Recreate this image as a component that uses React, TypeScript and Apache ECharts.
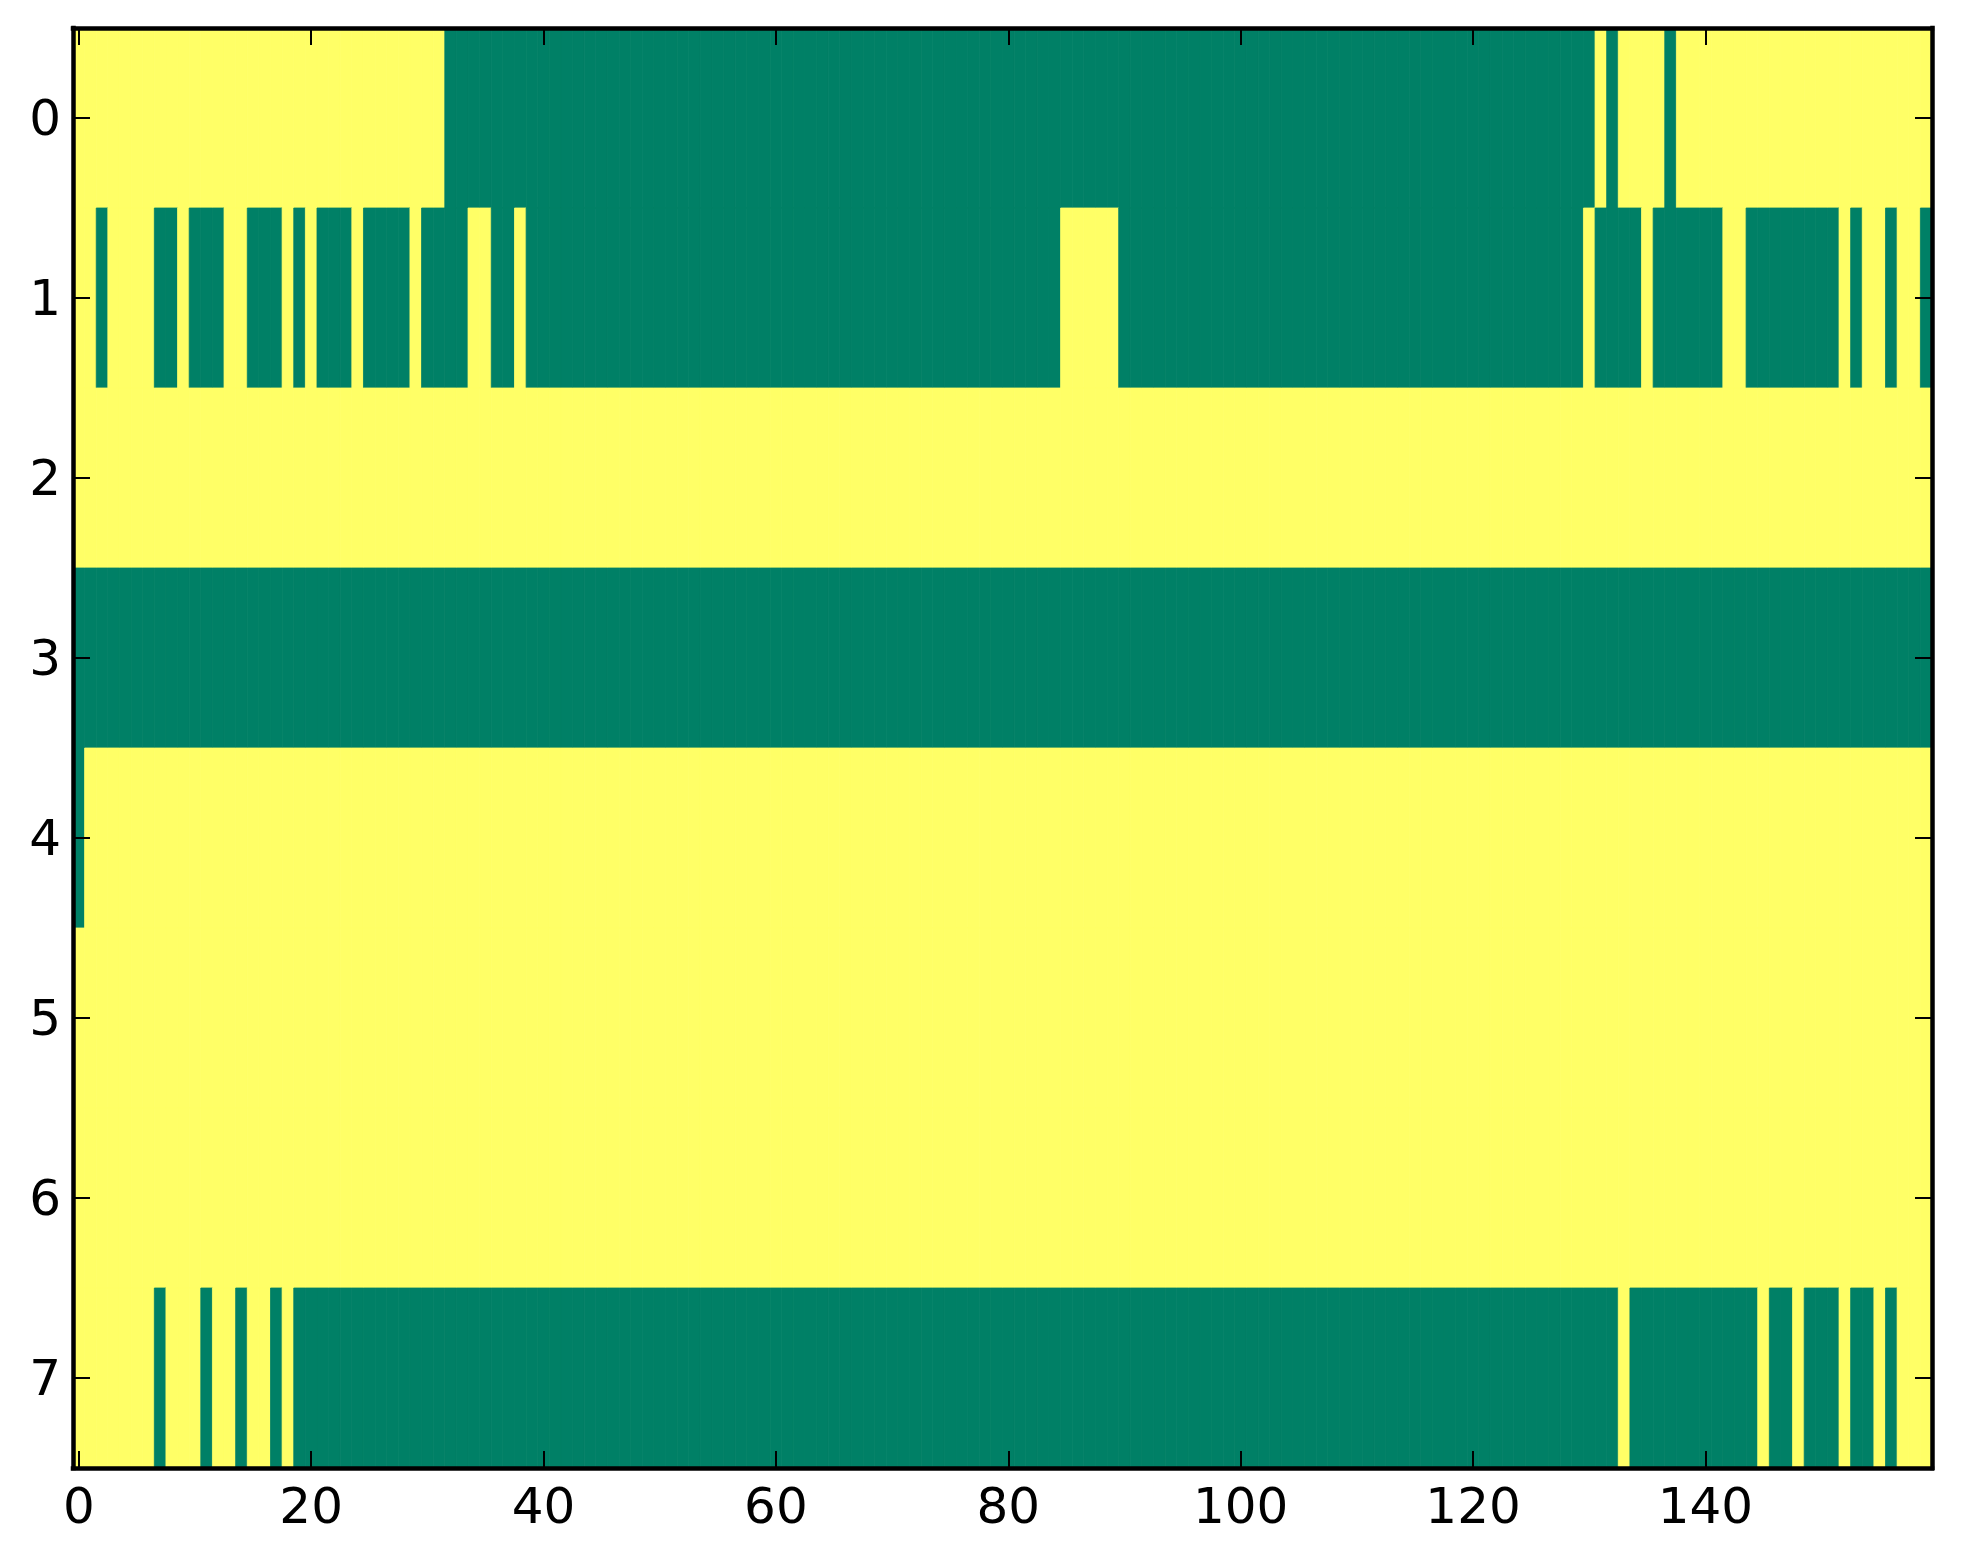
import React, { useEffect, useRef } from "react";
import * as echarts from "echarts";

// value 1 = yellow, value 0 = green (matplotlib "summer" colormap)
const row0Runs: [number, number][] = [[1, 32], [0, 99], [1, 1], [0, 1], [1, 4], [0, 1], [1, 22]];
const row1Runs: [number, number][] = [
  [1, 2], [0, 1], [1, 4], [0, 2], [1, 1], [0, 3], [1, 2], [0, 3], [1, 1], [0, 1], [1, 1], [0, 3],
  [1, 1], [0, 4], [1, 1], [0, 4], [1, 2], [0, 2], [1, 1], [0, 46], [1, 5], [0, 40], [1, 1], [0, 4],
  [1, 1], [0, 6], [1, 2], [0, 8], [1, 1], [0, 1], [1, 2], [0, 1], [1, 2], [0, 1],
];
const row2Runs: [number, number][] = [[1, 160]];
const row3Runs: [number, number][] = [[0, 160]];
const row4Runs: [number, number][] = [[0, 1], [1, 159]];
const row5Runs: [number, number][] = [[1, 160]];
const row6Runs: [number, number][] = [[1, 160]];
const row7Runs: [number, number][] = [
  [1, 7], [0, 1], [1, 3], [0, 1], [1, 2], [0, 1], [1, 2], [0, 1], [1, 1], [0, 114], [1, 1],
  [0, 11], [1, 1], [0, 2], [1, 1], [0, 3], [1, 1], [0, 2], [1, 1], [0, 1], [1, 3],
];
const rows = [row0Runs, row1Runs, row2Runs, row3Runs, row4Runs, row5Runs, row6Runs, row7Runs];

const xTicks = [0, 20, 40, 60, 80, 100, 120, 140];
const yTicks = [0, 1, 2, 3, 4, 5, 6, 7];

const GREEN = "#008066";
const YELLOW = "#FFFF66";

function buildCells(): number[][] {
  const cells: number[][] = [];
  rows.forEach((runs, r) => {
    let c = 0;
    runs.forEach(([v, n]) => {
      for (let i = 0; i < n; i++) {
        cells.push([c, r, v]);
        c++;
      }
    });
  });
  return cells;
}

const FONT = "DejaVu Sans";

function xAxisDef(pos: "bottom" | "top", labels: boolean) {
  return {
    type: "value",
    position: pos,
    min: -0.5,
    max: 159.5,
    z: 20,
    axisLine: { show: true, onZero: false, lineStyle: { color: "#000", width: 4.5, cap: "square" } },
    axisTick: {
      show: true,
      inside: true,
      length: 17,
      customValues: xTicks,
      lineStyle: { color: "#000", width: 2 },
    },
    axisLabel: {
      show: labels,
      customValues: xTicks,
      fontSize: 50,
      fontFamily: FONT,
      color: "#000",
      margin: 13,
    },
    splitLine: { show: false },
  };
}

function yAxisDef(pos: "left" | "right", labels: boolean) {
  return {
    type: "value",
    position: pos,
    inverse: true,
    min: -0.5,
    max: 7.5,
    z: 20,
    axisLine: { show: true, onZero: false, lineStyle: { color: "#000", width: 4.5, cap: "square" } },
    axisTick: {
      show: true,
      inside: true,
      length: 17,
      customValues: yTicks,
      lineStyle: { color: "#000", width: 2 },
    },
    axisLabel: {
      show: labels,
      customValues: yTicks,
      fontSize: 50,
      fontFamily: FONT,
      color: "#000",
      margin: 12,
    },
    splitLine: { show: false },
  };
}

export default function App() {
  const ref = useRef<HTMLDivElement>(null);

  useEffect(() => {
    if (!ref.current) return;
    const chart = echarts.init(ref.current, null, { renderer: "svg" });
    const cells = buildCells();
    chart.setOption({
      animation: false,
      backgroundColor: "#ffffff",
      grid: { left: 73, top: 28, width: 1859, height: 1440, containLabel: false },
      xAxis: [xAxisDef("bottom", true), xAxisDef("top", false)],
      yAxis: [yAxisDef("left", true), yAxisDef("right", false)],
      series: [
        {
          type: "custom",
          xAxisIndex: 0,
          yAxisIndex: 0,
          clip: true,
          z: 1,
          data: cells,
          renderItem: (params: any, api: any) => {
            const x = api.value(0);
            const y = api.value(1);
            const v = api.value(2);
            const p0 = api.coord([x - 0.5, y - 0.5]);
            const p1 = api.coord([x + 0.5, y + 0.5]);
            const color = v ? YELLOW : GREEN;
            return {
              type: "rect",
              shape: {
                x: Math.min(p0[0], p1[0]),
                y: Math.min(p0[1], p1[1]),
                width: Math.abs(p1[0] - p0[0]),
                height: Math.abs(p1[1] - p0[1]),
              },
              style: { fill: color, stroke: color, lineWidth: 0.8 },
            };
          },
        },
      ],
    });
    return () => chart.dispose();
  }, []);

  return (
    <div
      ref={ref}
      style={{ position: "absolute", left: 0, top: 0, width: 1963, height: 1564 }}
    />
  );
}
